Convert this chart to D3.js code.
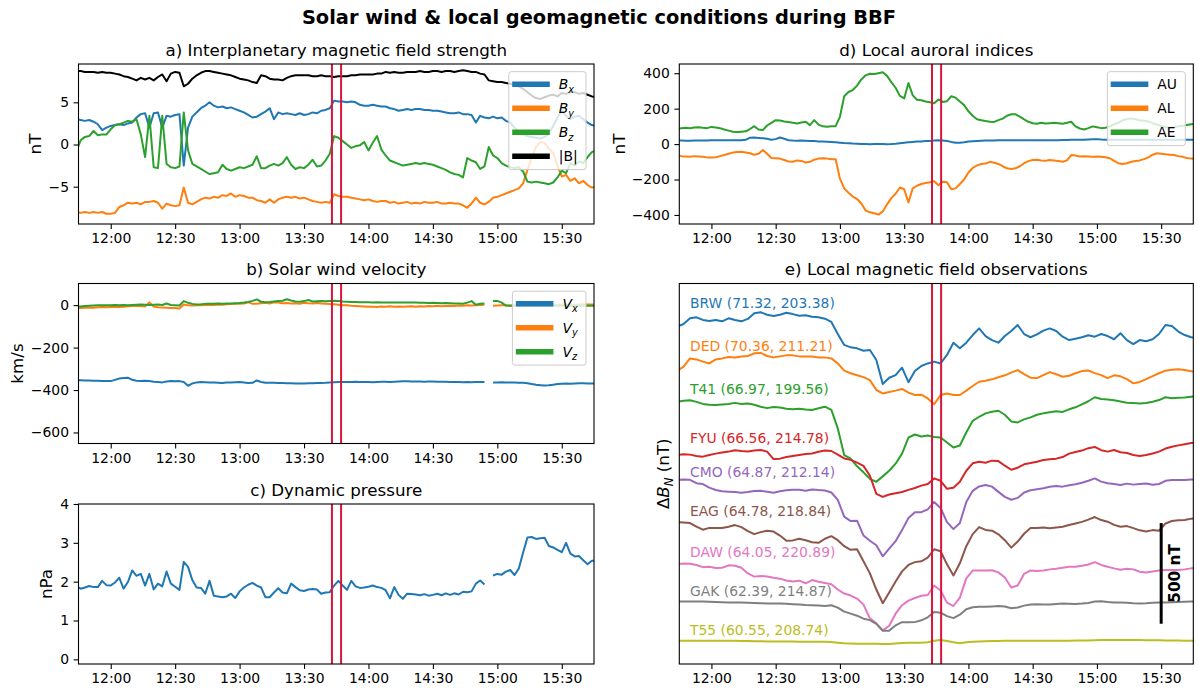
<!DOCTYPE html>
<html>
<head>
<meta charset="utf-8">
<script src="https://cdn.jsdelivr.net/npm/d3@7"></script>
<style>
  body { margin: 0; background: #fff; }
  svg { display: block; font-family: "DejaVu Sans", sans-serif; }
</style>
</head>
<body>
<svg id="fig" width="1198" height="688"></svg>
<script>
// ---------------------------------------------------------------------------
// Time base
// ---------------------------------------------------------------------------
const timeWindow = ["11:45", "15:45"];
const timeTicks = ["12:00", "12:30", "13:00", "13:30", "14:00", "14:30", "15:00", "15:30"];
const bbfWindow = ["13:43:00", "13:47:15"];      // BBF interval marked in every panel

// 2-minute solar wind / index samples and 3-minute station samples, both from 11:44
const swStart = "11:44", swStepMin = 2;
const magStart = "11:44", magStepMin = 3;

// ---------------------------------------------------------------------------
// a) IMF components (nT)
// ---------------------------------------------------------------------------
const imfBx = [
  3.0, 2.9, 2.8, 2.9, 2.7, 2.4, 1.7, 2.0, 2.2, 2.3,
  2.4, 2.3, 2.5, 2.6, 3.2, 3.6, 3.7, 2.0, 3.7, 3.8,
  2.0, 3.4, 3.3, 3.5, 3.6, -2.5, 2.0, 3.3, 3.8, 4.3,
  4.6, 5.0, 4.6, 4.4, 4.5, 4.3, 4.4, 4.2, 4.0, 3.8,
  3.5, 3.2, 3.3, 3.6, 3.9, 4.3, 3.0, 3.8, 3.6, 3.7,
  3.6, 3.5, 3.7, 3.5, 3.6, 3.8, 3.7, 4.0, 4.1, 4.3,
  5.2, 5.1, 5.1, 5.0, 5.1, 5.0, 4.7, 4.6, 4.6, 4.7,
  4.6, 4.5, 4.5, 4.3, 4.2, 4.0, 4.1, 4.2, 4.1, 4.2,
  4.2, 4.1, 4.1, 4.0, 4.0, 3.9, 3.8, 3.7, 3.7, 3.8,
  3.6, 3.6, 3.5, 2.6, 3.4, 3.2, 3.1, 3.3, 3.1, 3.2,
  2.8, 2.6, 2.0, 1.5, 1.2, 1.0, 0.9, 0.8, 0.7, 0.9,
  1.3, 2.2, 3.2, 4.0, 3.4, 3.0, 3.3, 3.4, 3.0, 2.6, 2.3, 2.2
];
const imfBy = [
  -8.0, -8.1, -8.0, -8.1, -8.0, -8.1, -8.0, -8.2, -8.2, -8.1,
  -7.4, -7.2, -6.9, -7.0, -6.9, -7.1, -6.8, -6.8, -6.7, -6.9,
  -7.6, -7.0, -7.2, -7.3, -7.2, -5.1, -6.9, -7.1, -6.8, -6.5,
  -6.3, -6.4, -6.2, -6.3, -6.0, -6.1, -5.8, -6.2, -6.0, -6.1,
  -6.3, -6.3, -6.6, -6.7, -6.9, -6.5, -6.9, -6.5, -6.3, -6.2,
  -6.3, -6.2, -6.4, -6.3, -6.5, -6.7, -6.8, -6.9, -6.8, -6.9,
  -5.9, -6.1, -6.2, -6.2, -6.3, -6.4, -6.5, -6.6, -6.5, -6.7,
  -6.8, -6.7, -6.7, -6.9, -6.8, -7.0, -6.9, -6.8, -7.0, -6.9,
  -7.0, -6.8, -6.9, -6.9, -6.8, -7.0, -7.0, -6.9, -7.0, -7.0,
  -7.2, -7.5, -7.0, -6.3, -6.9, -7.1, -6.8, -6.3, -6.2, -6.0,
  -5.8, -5.6, -5.4, -5.2, -4.6, -3.0, -1.5, -0.3, 0.3, 0.2,
  -0.5, -1.0, -2.5, -3.8, -3.6, -4.3, -4.0, -4.6, -4.3, -4.8, -5.1, -5.0
];
const imfBz = [
  -0.8, 0.5, 0.9, 1.0, 1.6, 1.1, 1.2, 1.2, 1.8, 2.3,
  2.4, 2.6, 2.8, 2.7, 3.0, 1.2, -1.5, 3.4, -2.7, -2.8,
  3.4, -2.3, -2.7, -2.8, -2.6, 3.8, -0.7, -2.3, -2.6, -2.9,
  -3.2, -3.5, -3.4, -3.3, -2.4, -2.9, -3.1, -2.9, -2.7, -2.8,
  -2.6, -2.4, -1.4, -2.8, -2.8, -2.5, -2.3, -2.5, -2.2, -1.5,
  -2.4, -2.9, -2.7, -2.8, -2.4, -1.8, -2.6, -2.5, -1.9, -1.1,
  1.0, 0.8, 0.4, 0.0, -0.4, -0.2, -0.1, 0.3, -0.7, 0.2,
  1.0, -0.6, -1.3, -1.9, -2.1, -2.3, -2.5, -2.4, -2.3, -2.2,
  -2.3, -2.2, -2.3, -2.4, -2.6, -2.8, -3.0, -3.3, -3.5, -3.6,
  -3.9, -1.6, -1.9, -2.1, -2.9, -2.6, -0.3, -1.3, -1.6, -2.2,
  -2.5, -2.7, -2.8, -2.7, -3.2, -4.4, -4.5, -4.4, -4.5, -4.6,
  -4.7, -4.5, -3.9, -3.1, -3.4, -2.2, -2.5, -2.0, -2.2, -1.5, -0.9, -0.7
];
const imfBt = [
  8.7, 8.7, 8.6, 8.6, 8.6, 8.5, 8.6, 8.5, 8.5, 8.4,
  8.3, 8.1, 8.0, 7.8, 7.6, 7.9, 7.7, 7.9, 7.6, 8.0,
  8.3, 7.5, 8.4, 8.6, 8.5, 6.9, 7.2, 7.8, 8.2, 8.5,
  8.7, 8.7, 8.6, 8.5, 8.4, 8.3, 8.2, 8.0, 7.8, 7.7,
  7.6, 7.4, 7.3, 8.2, 8.1, 7.8, 7.7, 7.7, 7.6, 7.9,
  8.1, 8.2, 8.2, 8.2, 8.2, 8.1, 8.1, 8.2, 8.1, 8.1,
  8.0, 8.1, 8.1, 8.1, 8.2, 8.2, 8.3, 8.3, 8.3, 8.3,
  8.4, 8.4, 8.6, 8.5, 8.6, 8.5, 8.5, 8.6, 8.6, 8.6,
  8.7, 8.6, 8.6, 8.7, 8.7, 8.6, 8.7, 8.7, 8.6, 8.7,
  8.8, 8.7, 8.6, 8.6, 8.4, 8.3, 7.6, 7.5, 7.4, 7.4,
  7.3, 7.2, 7.1, 6.9, 6.6, 6.2, 5.8, 5.5, 5.4, 5.6,
  5.8, 5.9, 5.7, 6.1, 6.0, 6.2, 6.2, 6.0, 6.1, 5.9, 5.7, 5.6
];

// ---------------------------------------------------------------------------
// b) Solar wind velocity (km/s), null = data gap
// ---------------------------------------------------------------------------
const swVx = [
  -353, -354, -355, -355, -356, -356, -357, -357, -358, -352,
  -346, -343, -342, -352, -356, -358, -356, -358, -361, -362,
  -364, -360, -358, -359, -358, -362, -380, -369, -364, -362,
  -363, -364, -365, -366, -367, -365, -364, -363, -362, -364,
  -367, -366, -355, -362, -366, -366, -366, -367, -367, -368,
  -368, -369, -369, -369, -368, -368, -367, -367, -366, -364,
  -363, -362, -362, -362, -362, -361, -362, -362, -362, -363,
  -362, -361, -361, -362, -361, -360, -359, -359, -360, -360,
  -360, -361, -360, -360, -361, -361, -361, -362, -362, -362,
  -363, -362, -363, -362, -362, -362, null, -364, -364, -363,
  -364, -364, -365, -366, -366, -368, -372, -375, -377, -379,
  -378, -375, -372, -370, -369, -370, -369, -368, -368, -369, -369, -369
];
const swVy = [
  -16, -14, -12, -11, -12, -10, -9, -10, -9, -8,
  -9, -7, -5, -4, -3, -4, -6, 13, -7, -10,
  -11, -12, -13, -14, -16, 3, -1, -2, 0, -1,
  1, 2, 1, 3, 2, 4, 5, 6, 7, 8,
  14, 6, 7, 9, 11, 8, 14, 12, 9, 10,
  8, 9, 7, 11, 9, 8, 10, 8, 7, 5,
  4, 2, 0, -1, -3, -4, -5, -6, -8, -7,
  -9, -6, -7, -5, -8, -6, -7, -6, -5, -7,
  -5, -6, -4, -5, -3, -5, -4, -3, -4, -2,
  -3, -1, -2, 0, 1, 2, null, -3, -2, -1,
  0, -2, -1, 0, 1, -1, 0, 1, 2, 1,
  2, 1, 2, 3, 2, 3, 2, 3, 4, 3, 3, 3
];
const swVz = [
  -8, -6, -4, -3, -2, -1, 0, 0, 0, 1,
  0, 1, 0, 1, 2, 3, 2, 1, 2, 3,
  1, 8, 1, 0, -2, 19, 11, 6, 3, 4,
  6, 7, 7, 8, 7, 8, 8, 9, 10, 12,
  15, 20, 27, 16, 14, 15, 17, 19, 21, 28,
  22, 17, 16, 19, 24, 17, 18, 19, 18, 20,
  21, 19, 17, 16, 15, 15, 14, 14, 14, 13,
  14, 13, 13, 12, 12, 13, 12, 13, 12, 12,
  11, 11, 10, 11, 10, 9, 10, 9, 8, 8,
  7, 12, 19, 2, 7, 8, null, 20, 20, 12,
  -2, -3, -3, -3, -2, -3, -2, -3, -3, -2,
  -3, -3, -2, -3, -2, -3, -3, -2, -3, -3, -3, -3
];

// ---------------------------------------------------------------------------
// c) Dynamic pressure (nPa)
// ---------------------------------------------------------------------------
const swPdyn = [
  1.88, 1.82, 1.85, 1.89, 1.86, 1.86, 2.02, 1.91, 1.90, 1.98,
  2.10, 1.82, 1.99, 2.29, 2.15, 2.20, 1.90, 2.20, 1.80, 1.95,
  1.88, 2.26, 1.95, 1.87, 1.79, 2.51, 2.38, 2.04, 1.85, 1.84,
  1.69, 2.02, 1.64, 1.62, 1.60, 1.62, 1.69, 1.58, 1.75, 1.85,
  1.92, 1.97, 1.90, 1.85, 1.60, 1.60, 1.72, 1.83, 1.72, 1.70,
  1.95, 1.86, 1.78, 1.76, 1.80, 1.81, 1.80, 1.69, 1.72, 1.73,
  1.90, 2.02, 1.90, 1.79, 2.02, 1.88, 1.84, 1.85, 1.87, 1.90,
  1.86, 1.84, 1.78, 1.57, 1.86, 1.66, 1.56, 1.69, 1.68, 1.67,
  1.65, 1.68, 1.64, 1.66, 1.69, 1.65, 1.70, 1.66, 1.70, 1.67,
  1.74, 1.73, 1.75, 1.95, 2.03, 1.93, null, 2.16, 2.20, 2.18,
  2.26, 2.30, 2.17, 2.34, 2.75, 3.14, 3.15, 3.10, 3.12, 3.13,
  2.92, 2.88, 2.82, 2.76, 3.00, 2.72, 2.65, 2.66, 2.55, 2.45, 2.54, 2.54
];

// ---------------------------------------------------------------------------
// d) Local auroral indices (nT)
// ---------------------------------------------------------------------------
const idxAU = [
  20, 20, 19, 19, 20, 20, 20, 20, 21, 21,
  21, 21, 22, 22, 22, 22, 24, 36, 37, 35,
  33, 30, 25, 28, 37, 30, 22, 20, 19, 20,
  19, 18, 17, 15, 14, 13, 12, 10, 8, 6,
  5, 3, 2, 1, 0, -1, 0, 1, 0, -1,
  0, 2, 5, 8, 10, 12, 14, 15, 17, 18,
  20, 21, 20, 18, 12, 8, 7, 10, 14, 16,
  18, 19, 20, 20, 20, 21, 21, 21, 22, 22,
  22, 22, 22, 22, 22, 22, 22, 22, 22, 22,
  23, 23, 24, 24, 24, 25, 26, 27, 28, 26,
  25, 25, 25, 24, 24, 24, 25, 25, 24, 24,
  24, 24, 25, 25, 25, 25, 24, 24, 24, 24, 24, 24
];
const idxAL = [
  -62, -68, -70, -72, -68, -70, -72, -75, -76, -74,
  -68, -62, -55, -48, -45, -43, -47, -52, -60, -55,
  -34, -55, -78, -80, -82, -90, -98, -100, -92, -95,
  -104, -100, -88, -82, -80, -82, -85, -86, -195, -250,
  -275, -296, -310, -335, -375, -385, -390, -398, -380, -340,
  -305, -280, -245, -255, -330, -250, -235, -225, -220, -215,
  -210, -232, -212, -215, -255, -250, -225, -200, -160, -135,
  -120, -112, -110, -100, -105, -112, -125, -137, -140, -137,
  -125, -108, -96, -90, -88, -92, -94, -90, -92, -95,
  -100, -92, -62, -65, -70, -68, -70, -72, -70, -72,
  -74, -80, -95, -108, -112, -108, -100, -95, -92, -85,
  -75, -60, -52, -55, -58, -60, -62, -68, -72, -78, -82, -84
];
const idxAE = [
  86, 90, 92, 90, 93, 95, 92, 90, 97, 94,
  90, 82, 76, 70, 68, 70, 72, 85, 101, 82,
  79, 105, 120, 135, 133, 128, 125, 120, 116, 122,
  126, 107, 135, 110, 100, 98, 100, 101, 154, 270,
  294, 305, 330, 365, 388, 397, 395, 400, 405, 385,
  350, 318, 272, 258, 345, 275, 250, 247, 240, 236,
  230, 252, 238, 242, 270, 262, 240, 220, 185, 160,
  140, 135, 130, 126, 125, 135, 144, 160, 168, 168,
  155, 140, 126, 118, 115, 120, 116, 118, 120, 118,
  115, 120, 126, 100, 88, 82, 90, 100, 95, 90,
  92, 100, 112, 120, 135, 142, 145, 140, 135, 132,
  128, 118, 110, 102, 96, 92, 95, 100, 104, 108, 112, 114
];

// ---------------------------------------------------------------------------
// e) Station north-component perturbations (nT), stacked by a fixed offset
// ---------------------------------------------------------------------------
const stations = ["BRW", "DED", "T41", "FYU", "CMO", "EAG", "DAW", "GAK", "T55"];
const stationCoords = ["(71.32, 203.38)", "(70.36, 211.21)", "(66.97, 199.56)", "(66.56, 214.78)",
                       "(64.87, 212.14)", "(64.78, 218.84)", "(64.05, 220.89)", "(62.39, 214.87)", "(60.55, 208.74)"];
const stationOffset = [0, -200, -400, -600, -800, -1000, -1200, -1400, -1600];
const stationLabelLevel = [92, 80, 66, 24, 55, 62, 56, 64, 69];   // nT above the offset
const stationLabelTime = "11:50";
const scaleBar = { time: "15:30", from: -1500, length: 500 };

const dBN_BRW = [
  -24, -11, 17, 22, 9, 4, 9, 2, 17, 9,
  2, 14, 42, 47, 35, 29, 35, 45, 38, 30,
  32, 25, 22, 15, -1, -61, -115, -127, -132, -144,
  -140, -190, -309, -278, -265, -228, -300, -245, -220, -207,
  -198, -207, -165, -104, -132, -104, -66, -33, -71, -91,
  -104, -71, -46, -16, -61, -77, -63, -44, -33, -46,
  -74, -91, -84, -77, -67, -74, -61, -71, -87, -57,
  -91, -111, -91, -97, -87, -61, -16, -21, -49, -66,
  -77, -81
];
const dBN_DED = [
  -45, -23, 18, 13, 2, -7, 13, 18, 25, 23,
  27, 30, 43, 45, 30, 23, 28, 33, 33, 28,
  27, 27, 23, 23, 18, -7, -43, -56, -66, -75,
  -90, -139, -156, -149, -142, -134, -152, -164, -162, -181,
  -210, -164, -156, -164, -164, -142, -119, -98, -93, -86,
  -76, -66, -53, -40, -60, -78, -80, -65, -50, -61,
  -73, -68, -56, -45, -42, -55, -65, -80, -66, -71,
  -85, -106, -99, -85, -70, -56, -43, -38, -36, -40,
  -46, -48
];
const dBN_T41 = [
  3, 8, 10, 2, -8, -12, -14, -11, -8, -3,
  -8, -6, -12, -22, -29, -24, -26, -32, -35, -32,
  -36, -38, -30, -22, -38, -130, -262, -280, -318, -348,
  -380, -395, -368, -340, -305, -255, -175, -160, -170, -165,
  -172, -175, -200, -225, -215, -150, -92, -72, -55, -47,
  -42, -62, -95, -100, -85, -75, -62, -55, -50, -45,
  -48, -35, -25, -10, 5, 25, 16, 14, 10, 4,
  -2, -4, -6, -4, 3, 11, 25, 20, 22, 24,
  28, 30
];
const dBN_FYU = [
  -62, -58, -60, -67, -70, -62, -55, -50, -45, -38,
  -42, -45, -40, -37, -45, -82, -80, -72, -67, -62,
  -57, -54, -46, -40, -42, -60, -79, -86, -100, -116,
  -165, -255, -270, -258, -252, -246, -235, -226, -214, -206,
  -178, -190, -230, -225, -195, -140, -103, -95, -100, -90,
  -92, -115, -135, -125, -108, -102, -95, -87, -83, -80,
  -72, -55, -47, -40, -28, -22, -38, -45, -37, -48,
  -52, -62, -67, -62, -54, -45, -30, -21, -14, -8,
  -2, 0
];
const dBN_CMO = [
  14, 16, 15, -2, -6, -24, -36, -42, -44, -46,
  -49, -46, -41, -40, -44, -49, -42, -37, -34, -35,
  -39, -33, -36, -38, -48, -85, -168, -190, -188, -262,
  -288, -310, -365, -327, -290, -235, -175, -146, -146, -132,
  -95, -125, -195, -230, -200, -95, -40, -18, -11, -19,
  -45, -70, -84, -75, -48, -37, -32, -27, -20, -16,
  -19, -12, -7, 0, 10, 22, 6, -2, -6, -11,
  -4, -9, -6, -3, -10, -6, 10, 14, 14, 14,
  17, 17
];
const dBN_EAG = [
  4, 3, 0, -18, -33, -24, -25, -24, -18, -10,
  -20, -40, -55, -45, -38, -42, -62, -88, -86, -78,
  -85, -95, -98, -78, -65, -85, -115, -133, -130, -190,
  -250, -330, -398, -345, -290, -240, -208, -194, -190, -172,
  -130, -140, -205, -260, -200, -115, -55, -20, -34, -38,
  -56, -85, -122, -92, -53, -25, -25, -22, -26, -22,
  -18, -10, -2, 6, 17, 30, 15, 7, -9, -18,
  -15, -25, -36, -42, -35, -38, -2, 10, 14, 15,
  22, 23
];
const dBN_DAW = [
  -5, -1, -2, -8, -19, -17, -23, -22, -10, -12,
  -22, -50, -66, -63, -65, -72, -76, -85, -90, -86,
  -99, -83, -91, -98, -104, -130, -150, -160, -175, -205,
  -273, -298, -333, -310, -250, -208, -185, -172, -161, -157,
  -110, -135, -195, -212, -170, -75, -36, -35, -35, -34,
  -45, -70, -120, -110, -52, -35, -38, -36, -30, -27,
  -22, -17, -17, -12, -6, 6, -8, -17, -25, -32,
  -27, -30, -42, -46, -41, -36, -33, -33, -33, -30,
  -25, -25
];
const dBN_GAK = [
  10, 10, 10, 10, 10, 9, 8, 7, 6, 5,
  5, 4, 3, 2, 1, 1, 0, -1, -3, -5,
  -7, -8, -10, -12, -8, -20, -40, -50, -60, -75,
  -82, -101, -135, -135, -108, -92, -93, -92, -83, -68,
  -42, -45, -62, -72, -55, -28, -18, -16, -16, -14,
  -12, -14, -23, -19, -10, -5, -3, -4, -5, -2,
  0, -1, -2, 0, 3, 10, 12, 8, 5, 6,
  4, 2, 1, 2, 4, 5, 6, 7, 8, 9,
  10, 10
];
const dBN_T55 = [
  16, 16, 16, 16, 16, 16, 16, 16, 16, 16,
  14, 14, 13, 13, 12, 12, 12, 12, 12, 11,
  11, 11, 11, 10, 9, 6, 3, 2, 1, 0,
  1, 0, -1, -1, 2, 4, 6, 6, 6, 8,
  15, 19, 14, 8, 3, 8, 11, 12, 13, 14,
  14, 15, 15, 15, 15, 16, 16, 16, 16, 16,
  16, 16, 17, 17, 17, 18, 19, 19, 19, 19,
  19, 19, 19, 18, 18, 18, 17, 17, 17, 16,
  16, 16
];
const stationSeries = [dBN_BRW, dBN_DED, dBN_T41, dBN_FYU, dBN_CMO, dBN_EAG, dBN_DAW, dBN_GAK, dBN_T55];

// ---------------------------------------------------------------------------
// Drawing
// ---------------------------------------------------------------------------
const FONT = "DejaVu Sans, sans-serif";
const C = ["#1f77b4", "#ff7f0e", "#2ca02c", "#d62728", "#9467bd", "#8c564b", "#e377c2", "#7f7f7f", "#bcbd22"];
const BBF_COLOR = "crimson";
const svg = d3.select("#fig");

const parseHM = d3.timeParse("%H:%M");
const parseHMS = d3.timeParse("%H:%M:%S");
const xDomain = timeWindow.map(parseHM);
const xTickDates = timeTicks.map(parseHM);
const bbfDates = bbfWindow.map(parseHMS);

function toSeries(values, start, step) {
  const t0 = parseHM(start);
  return values.map((v, i) => ({ t: d3.timeMinute.offset(t0, i * step), v }));
}

let clipCount = 0;
function makeAxes(box, yDomain, opts) {
  const x = d3.scaleTime().domain(xDomain).range([box.left, box.right]);
  const y = d3.scaleLinear().domain(yDomain).range([box.bottom, box.top]);
  const g = svg.append("g");
  const clipId = "clip" + (clipCount++);
  svg.append("defs").append("clipPath").attr("id", clipId)
    .append("rect").attr("x", box.left).attr("y", box.top)
    .attr("width", box.right - box.left).attr("height", box.bottom - box.top);
  const plot = g.append("g").attr("clip-path", `url(#${clipId})`);
  const over = g.append("g");

  // x axis
  const xa = g.append("g").attr("transform", `translate(0,${box.bottom})`)
    .call(d3.axisBottom(x).tickValues(xTickDates).tickFormat(d3.timeFormat("%H:%M"))
      .tickSize(4.9).tickPadding(4.6));
  styleAxis(xa);

  // y axis
  if (opts.yTicks) {
    const ya = g.append("g").attr("transform", `translate(${box.left},0)`)
      .call(d3.axisLeft(y).tickValues(opts.yTicks).tickFormat(d3.format("d"))
        .tickSize(4.9).tickPadding(4.6));
    styleAxis(ya);
  }

  // title
  g.append("text").attr("x", (box.left + box.right) / 2).attr("y", box.top - 8.3)
    .attr("text-anchor", "middle").attr("font-size", 16.7).attr("font-family", FONT)
    .attr("fill", "#000").text(opts.title);

  return { x, y, g, plot, over, box };
}

function styleAxis(a) {
  a.attr("font-size", 13.9).attr("font-family", FONT);
  a.select(".domain").remove();
  a.selectAll(".tick line").attr("stroke", "#000").attr("stroke-width", 1.1);
  a.selectAll(".tick text").attr("fill", "#000");
}

function yLabel(ax, baselineX, build) {
  const cy = (ax.box.top + ax.box.bottom) / 2;
  const t = ax.g.append("text")
    .attr("transform", `translate(${baselineX},${cy}) rotate(-90)`)
    .attr("text-anchor", "middle").attr("font-size", 16.7).attr("font-family", FONT).attr("fill", "#000");
  build(t);
}

function drawLine(ax, series, color, width) {
  const line = d3.line().defined(d => d.v != null).x(d => ax.x(d.t)).y(d => ax.y(d.v));
  ax.plot.append("path").datum(series).attr("d", line)
    .attr("fill", "none").attr("stroke", color).attr("stroke-width", width || 2)
    .attr("stroke-linejoin", "round");
}

function drawFrame(ax) {
  const b = ax.box;
  ax.over.append("rect").attr("x", b.left).attr("y", b.top)
    .attr("width", b.right - b.left).attr("height", b.bottom - b.top)
    .attr("fill", "none").attr("stroke", "#000").attr("stroke-width", 1.1);
}

function drawBBF(ax) {
  bbfDates.forEach(d => {
    ax.over.append("line").attr("x1", ax.x(d)).attr("x2", ax.x(d))
      .attr("y1", ax.box.top).attr("y2", ax.box.bottom)
      .attr("stroke", BBF_COLOR).attr("stroke-width", 2);
  });
}

// label parts: [{t, italic, sub}]
function appendRich(textSel, parts, size) {
  parts.forEach(p => {
    const ts = textSel.append("tspan").text(p.t);
    if (p.italic) ts.attr("font-style", "italic");
    if (p.sub) ts.attr("font-size", size * 0.7).attr("dy", size * 0.24);
  });
}

function legend(ax, items) {
  const fs = 13.9, rowH = 24, padTop = 12.6, padBottom = 13.3;
  const lineStart = 3.4, lineEnd = 41, textX = 50, padRight = 8.3;
  const g = ax.over.append("g");
  const bg = g.append("rect");
  const texts = items.map((it, i) => {
    const t = g.append("text").attr("font-size", fs).attr("font-family", FONT).attr("fill", "#000")
      .attr("y", padTop + i * rowH + fs * 0.36);
    appendRich(t, it.parts, fs);
    return t;
  });
  const tw = d3.max(texts, t => t.node().getComputedTextLength());
  const w = textX + tw + padRight;
  const h = padTop + (items.length - 1) * rowH + padBottom;
  const x0 = ax.box.right - 8 - w, y0 = ax.box.top + 7.7;
  g.attr("transform", `translate(${x0},${y0})`);
  bg.attr("width", w).attr("height", h).attr("rx", 2.5)
    .attr("fill", "#fff").attr("fill-opacity", 0.8).attr("stroke", "#cccccc").attr("stroke-width", 1);
  items.forEach((it, i) => {
    g.append("line").attr("x1", lineStart).attr("x2", lineEnd)
      .attr("y1", padTop + i * rowH).attr("y2", padTop + i * rowH)
      .attr("stroke", it.color).attr("stroke-width", 5.5);
  });
  texts.forEach(t => t.attr("x", textX).raise());
}

// ---- Suptitle
svg.append("text").attr("x", 599).attr("y", 24).attr("text-anchor", "middle")
  .attr("font-size", 19.4).attr("font-weight", "bold").attr("font-family", FONT).attr("fill", "#000")
  .text("Solar wind & local geomagnetic conditions during BBF");

// ---- a) IMF
const axA = makeAxes({ left: 78.5, right: 594, top: 64, bottom: 224 }, [-9.42, 9.54],
  { yTicks: [-5, 0, 5], title: "a) Interplanetary magnetic field strength" });
drawLine(axA, toSeries(imfBx, swStart, swStepMin), C[0]);
drawLine(axA, toSeries(imfBy, swStart, swStepMin), C[1]);
drawLine(axA, toSeries(imfBz, swStart, swStepMin), C[2]);
drawLine(axA, toSeries(imfBt, swStart, swStepMin), "#000");
drawBBF(axA);
drawFrame(axA);
legend(axA, [
  { color: C[0], parts: [{ t: "B", italic: true }, { t: "x", italic: true, sub: true }] },
  { color: C[1], parts: [{ t: "B", italic: true }, { t: "y", italic: true, sub: true }] },
  { color: C[2], parts: [{ t: "B", italic: true }, { t: "z", italic: true, sub: true }] },
  { color: "#000", parts: [{ t: "|B|" }] }
]);
yLabel(axA, 41, t => t.text("nT"));

// ---- b) Velocity
const axB = makeAxes({ left: 78.5, right: 594, top: 283.5, bottom: 443.5 }, [-652, 102],
  { yTicks: [-600, -400, -200, 0], title: "b) Solar wind velocity" });
drawLine(axB, toSeries(swVx, swStart, swStepMin), C[0]);
drawLine(axB, toSeries(swVy, swStart, swStepMin), C[1]);
drawLine(axB, toSeries(swVz, swStart, swStepMin), C[2]);
drawBBF(axB);
drawFrame(axB);
legend(axB, [
  { color: C[0], parts: [{ t: "V", italic: true }, { t: "x", italic: true, sub: true }] },
  { color: C[1], parts: [{ t: "V", italic: true }, { t: "y", italic: true, sub: true }] },
  { color: C[2], parts: [{ t: "V", italic: true }, { t: "z", italic: true, sub: true }] }
]);
yLabel(axB, 23, t => t.text("km/s"));

// ---- c) Dynamic pressure
const axC = makeAxes({ left: 78.5, right: 594, top: 504, bottom: 664 }, [-0.12, 4],
  { yTicks: [0, 1, 2, 3, 4], title: "c) Dynamic pressure" });
drawLine(axC, toSeries(swPdyn, swStart, swStepMin), C[0]);
drawBBF(axC);
drawFrame(axC);
yLabel(axC, 52, t => t.text("nPa"));

// ---- d) Auroral indices
const axD = makeAxes({ left: 679.3, right: 1193.3, top: 64, bottom: 224 }, [-451, 452],
  { yTicks: [-400, -200, 0, 200, 400], title: "d) Local auroral indices" });
drawLine(axD, toSeries(idxAU, swStart, swStepMin), C[0]);
drawLine(axD, toSeries(idxAL, swStart, swStepMin), C[1]);
drawLine(axD, toSeries(idxAE, swStart, swStepMin), C[2]);
drawBBF(axD);
drawFrame(axD);
legend(axD, [
  { color: C[0], parts: [{ t: "AU" }] },
  { color: C[1], parts: [{ t: "AL" }] },
  { color: C[2], parts: [{ t: "AE" }] }
]);
yLabel(axD, 625, t => t.text("nT"));

// ---- e) Station magnetograms
const axE = makeAxes({ left: 679.3, right: 1193.3, top: 283.5, bottom: 664 }, [-1700, 190],
  { title: "e) Local magnetic field observations" });
stationSeries.forEach((vals, k) => {
  const shifted = vals.map(v => v + stationOffset[k]);
  drawLine(axE, toSeries(shifted, magStart, magStepMin), C[k]);
  axE.over.append("text")
    .attr("x", axE.x(parseHM(stationLabelTime)))
    .attr("y", axE.y(stationOffset[k] + stationLabelLevel[k]))
    .attr("dy", "0.36em").attr("font-size", 13.9).attr("font-family", FONT).attr("fill", C[k])
    .text(`${stations[k]} ${stationCoords[k]}`);
});
// 500 nT scale bar
const sbX = axE.x(parseHM(scaleBar.time));
axE.over.append("line").attr("x1", sbX).attr("x2", sbX)
  .attr("y1", axE.y(scaleBar.from)).attr("y2", axE.y(scaleBar.from + scaleBar.length))
  .attr("stroke", "#000").attr("stroke-width", 3);
axE.over.append("text")
  .attr("transform", `translate(${sbX + 19},${axE.y(scaleBar.from + scaleBar.length / 2)}) rotate(-90)`)
  .attr("text-anchor", "middle").attr("font-size", 15.3).attr("font-weight", "bold")
  .attr("font-family", FONT).attr("fill", "#000").text(`${scaleBar.length} nT`);
drawBBF(axE);
drawFrame(axE);
yLabel(axE, 669, t => {
  t.append("tspan").text("Δ");
  t.append("tspan").attr("font-style", "italic").text("B");
  t.append("tspan").attr("font-style", "italic").attr("font-size", 11.7).attr("dy", 4).text("N");
  t.append("tspan").attr("dy", -4).text(" (nT)");
});
</script>
</body>
</html>
